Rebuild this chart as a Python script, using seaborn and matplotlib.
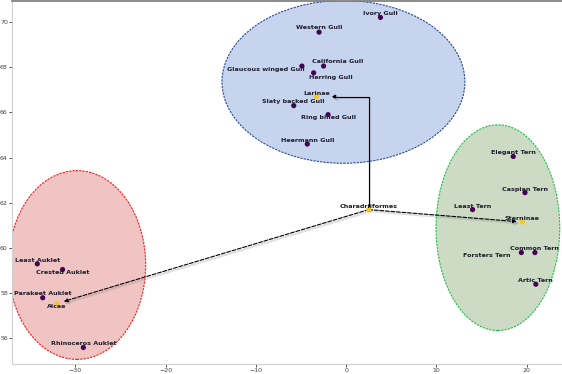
import numpy as np
import pandas as pd
import matplotlib
matplotlib.use('Agg')
import matplotlib.pyplot as plt
import matplotlib.patheffects as pe
from matplotlib.patches import Ellipse
import seaborn as sns

# taxa and their 2D embedding coordinates
names = ['Ivory Gull', 'Western Gull', 'California Gull', 'Glaucous winged Gull',
         'Herring Gull', 'Larinae', 'Slaty backed Gull', 'Ring billed Gull',
         'Heermann Gull', 'Elegant Tern', 'Caspian Tern', 'Least Tern', 'Sterninae',
         'Charadriiformes', 'Common Tern', 'Forsters Tern', 'Artic Tern',
         'Least Auklet', 'Crested Auklet', 'Parakeet Auklet', 'Alcae', 'Rhinoceros Auklet']
xs = [3.8, -3.0, -2.5, -4.9, -3.6, -3.3, -5.8, -2.0, -4.3,
      18.5, 19.8, 14.0, 19.5, 2.5, 20.9, 19.4, 21.0,
      -34.2, -31.4, -33.6, -32.0, -29.1]
ys = [70.2, 69.55, 68.05, 68.05, 67.75, 66.7, 66.3, 65.9, 64.6,
      64.05, 62.45, 61.7, 61.15, 61.7, 59.8, 59.8, 58.4,
      59.3, 59.05, 57.8, 57.55, 55.6]
level = [0, 0, 0, 0, 0, 1, 0, 0, 0,
         0, 0, 0, 1, 1, 0, 0, 0,
         0, 0, 0, 1, 0]

# cluster ellipses: centre x, centre y, width, height
ell_x = [-0.3, 16.8, -29.8]
ell_y = [67.35, 60.9, 59.25]
ell_w = [26.9, 13.7, 15.2]
ell_h = [7.2, 9.1, 8.35]
ell_face = ['#c6d4ed', '#cddbc5', '#efc4c2']
ell_edge = ['#2a4a9a', '#1fbf4a', '#ff1a1a']

# label offsets from the point (pixels)
label_off = [(0, 3.5), (0, 4.5), (14, 5), (-36, -3), (17, -4.5), (0, 3.5), (0, 4), (0, -3), (0, 4),
             (0, 4), (0, 3.5), (0, 3.5), (0, 3.5), (0, 3.5), (0, 4), (-35, -3), (0, 3.5),
             (0, 3.5), (0, -3), (0, 4), (0, -3.5), (0, 3.5)]

df = pd.DataFrame({'x': xs, 'y': ys, 'name': names, 'level': level})

sns.set_theme(style='white')
plt.rcParams['font.family'] = ['DejaVu Sans']

fig = plt.figure(figsize=(5.62, 3.74), dpi=100)
ax = fig.add_axes([12 / 562, 10 / 374, 550 / 562, 363.5 / 374])

for cx, cy, w, h, fc, ec in zip(ell_x, ell_y, ell_w, ell_h, ell_face, ell_edge):
    ax.add_patch(Ellipse((cx, cy), w, h, facecolor=fc, edgecolor=ec,
                         linewidth=0.8, linestyle=(0, (2, 1)), zorder=1))

sns.scatterplot(data=df, x='x', y='y', hue='level', palette={0: '#440154', 1: '#f4c81e'}, s=14,
                edgecolor='none', legend=False, ax=ax, zorder=3)

for n, x, y, (dx, dy) in zip(names, xs, ys, label_off):
    ax.annotate(n, (x, y), xytext=(dx, dy), textcoords='offset pixels',
                ha='center', va='center', fontsize=4.6, fontweight='bold',
                color='#1e1e2e', zorder=4)

pt = dict(zip(names, zip(xs, ys)))
shadow = [pe.SimpleLineShadow(offset=(1.2, -1.2), shadow_color='grey', alpha=0.25, linewidth=1.6), pe.Normal()]

a1 = ax.annotate('', xy=pt['Larinae'], xytext=pt['Charadriiformes'],
                 arrowprops=dict(arrowstyle='-|>', mutation_scale=5, color='black', lw=0.8,
                                 connectionstyle='angle,angleA=90,angleB=0,rad=0',
                                 shrinkA=0, shrinkB=11), zorder=2)
a2 = ax.annotate('', xy=pt['Alcae'], xytext=pt['Charadriiformes'],
                 arrowprops=dict(arrowstyle='-|>', mutation_scale=5, color='black', lw=0.8,
                                 linestyle=(0, (3.5, 1.5)), shrinkA=0, shrinkB=5), zorder=2)
a3 = ax.annotate('', xy=pt['Sterninae'], xytext=pt['Charadriiformes'],
                 arrowprops=dict(arrowstyle='-|>', mutation_scale=5, color='black', lw=0.8,
                                 linestyle=(0, (3.5, 1.5)), shrinkA=0, shrinkB=4), zorder=2)
for a in (a1, a2, a3):
    a.arrow_patch.set_path_effects(shadow)

ax.set_xlim(-37.0, 23.9)
ax.set_ylim(54.87, 70.95)
ax.set_xticks([-30, -20, -10, 0, 10, 20])
ax.set_yticks([56, 58, 60, 62, 64, 66, 68, 70])
ax.set_xlabel('')
ax.set_ylabel('')
ax.tick_params(axis='both', labelsize=4.5, labelcolor='#444444', length=2, width=0.6,
               color='#333333', pad=1, bottom=True, left=True)
for s in ('left', 'bottom'):
    ax.spines[s].set_color('#d0d0d0')
    ax.spines[s].set_linewidth(0.8)
ax.spines['top'].set_color('#777777')
ax.spines['top'].set_linewidth(1.2)
ax.spines['right'].set_visible(False)

fig.savefig('out.png', dpi=100)
